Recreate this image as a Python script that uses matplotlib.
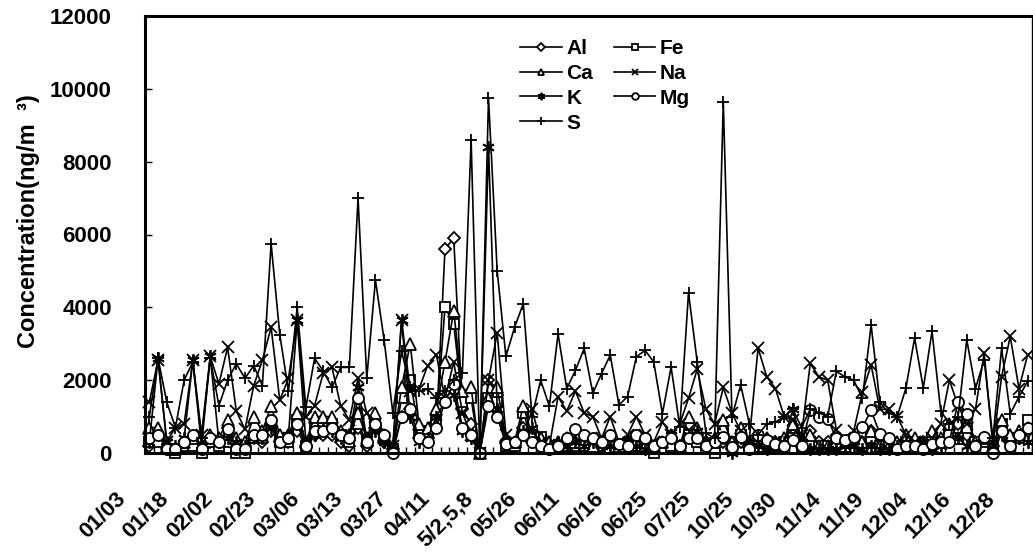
import numpy as np
import matplotlib
matplotlib.use("Agg")
import matplotlib.pyplot as plt
import matplotlib.transforms as mtransforms

plt.rcParams['font.family'] = ['Liberation Sans', 'DejaVu Sans']
plt.rcParams['font.weight'] = 'bold'
plt.rcParams['axes.labelweight'] = 'bold'

# tick labels, one every 5 samples
tick_labels = ['01/03', '01/18', '02/02', '02/23', '03/06', '03/13', '03/27', '04/11',
               '5/2,5,8', '05/26', '06/11', '06/16', '06/25', '07/25', '10/25', '10/30',
               '11/14', '11/19', '12/04', '12/16', '12/28']

Al = [200, 400, 100, 50, 200, 300, 100, 300, 300, 700,
      300, 200, 400, 300, 600, 300, 300, 600, 200, 500,
      500, 500, 300, 200, 700, 200, 700, 300, 100, 1000,
      1200, 400, 400, 700, 5600, 5900, 1200, 800, 0, 2000,
      1600, 300, 200, 700, 300, 200, 100, 200, 300, 300,
      300, 200, 300, 300, 200, 300, 300, 200, 100, 200,
      300, 200, 800, 500, 300, 200, 300, 100, 300, 200,
      400, 200, 300, 300, 500, 200, 600, 300, 300, 200,
      200, 300, 300, 600, 300, 200, 200, 300, 200, 300,
      200, 300, 400, 800, 500, 300, 400, 200, 600, 300,
      400, 600]

Fe = [300, 300, 100, 0, 200, 200, 0, 300, 200, 300,
      0, 0, 400, 400, 800, 300, 300, 900, 200, 800,
      800, 800, 500, 300, 800, 300, 800, 400, 100, 1500,
      2000, 600, 500, 900, 4000, 3550, 1400, 1500, 0, 1500,
      1400, 200, 200, 1100, 400, 450, 200, 100, 200, 200,
      200, 200, 200, 100, 200, 200, 200, 100, 0, 100,
      200, 100, 500, 300, 100, 0, 700, 300, 500, 200,
      200, 300, 200, 300, 400, 200, 300, 200, 200, 200,
      200, 300, 200, 400, 200, 200, 200, 300, 300, 200,
      400, 300, 500, 400, 700, 300, 300, 200, 800, 400,
      400, 900]

Ca = [700, 700, 200, 100, 300, 400, 200, 500, 400, 900,
      400, 300, 1000, 600, 1300, 500, 500, 1100, 300, 1000,
      1000, 1000, 600, 500, 1100, 400, 1100, 500, 200, 1800,
      3000, 800, 700, 1200, 2500, 3900, 1700, 1800, 0, 1500,
      1800, 400, 300, 1300, 500, 400, 300, 300, 400, 300,
      300, 200, 300, 300, 200, 300, 300, 200, 200, 300,
      500, 200, 1000, 700, 300, 400, 900, 300, 700, 300,
      200, 400, 300, 400, 800, 300, 500, 200, 200, 300,
      200, 400, 300, 600, 200, 200, 300, 500, 400, 300,
      600, 400, 800, 400, 1000, 300, 400, 200, 900, 500,
      600, 700]

Na = [1400, 2550, 300, 700, 800, 2550, 500, 2650, 1900, 2900,
      1150, 650, 1850, 2550, 3450, 1450, 2050, 3650, 1000, 1300,
      2200, 2350, 1300, 900, 2050, 1100, 700, 400, 200, 3650,
      1700, 1750, 2400, 2700, 1500, 2500, 1100, 500, 0, 2000,
      3300, 500, 300, 400, 1200, 300, 200, 1550, 1150, 1700,
      1100, 1000, 400, 1000, 300, 500, 1000, 500, 300, 850,
      500, 800, 1500, 2300, 1200, 800, 1800, 1100, 600, 400,
      2880, 2090, 1770, 1000, 900, 500, 2460, 2090, 2000, 640,
      400, 600, 1670, 2420, 1200, 1200, 1000, 500, 300, 200,
      400, 800, 2000, 1300, 800, 1200, 2740, 200, 2090, 3200,
      1770, 2700]

K = [300, 2600, 300, 200, 400, 2550, 200, 2650, 300, 400,
     300, 200, 500, 400, 700, 300, 500, 3650, 300, 500,
     700, 600, 400, 500, 1800, 400, 600, 300, 100, 3650,
     1000, 300, 400, 1000, 1400, 1600, 600, 400, 0, 8400,
     1200, 300, 300, 600, 700, 200, 100, 300, 200, 300,
     200, 300, 200, 200, 200, 300, 200, 100, 200, 300,
     500, 200, 500, 600, 300, 300, 400, 0, 400, 300,
     200, 100, 200, 300, 1200, 300, 100, 100, 100, 100,
     200, 200, 100, 200, 100, 100, 200, 300, 200, 300,
     100, 200, 300, 400, 200, 200, 400, 100, 500, 200,
     400, 300]

Mg = [400, 500, 100, 100, 300, 500, 100, 400, 300, 650,
      100, 100, 500, 500, 900, 300, 400, 800, 200, 600,
      600, 700, 500, 400, 1500, 300, 800, 500, 0, 1000,
      1200, 400, 300, 700, 1400, 1900, 700, 500, 0, 1300,
      1000, 250, 300, 500, 300, 200, 100, 200, 400, 650,
      500, 400, 300, 500, 250, 200, 500, 400, 200, 300,
      400, 200, 400, 400, 200, 300, 440, 170, 440, 100,
      500, 350, 250, 200, 350, 200, 1170, 990, 940, 400,
      350, 450, 710, 1170, 530, 400, 100, 200, 200, 100,
      250, 300, 300, 1410, 1080, 200, 450, 0, 600, 200,
      500, 700]

S = [1000, 2600, 1400, 700, 2000, 2500, 400, 2600, 1300, 2000,
     2450, 2050, 2400, 1850, 5750, 3250, 1700, 4000, 1250, 2600,
     2250, 1800, 2350, 2350, 7000, 2050, 4750, 3100, 1100, 2800,
     1800, 1700, 1750, 1500, 1700, 2000, 2200, 8600, 0, 9750,
     5000, 2650, 3450, 4100, 1000, 2000, 1280, 3270, 1770, 2270,
     2870, 1640, 2180, 2690, 1320, 1550, 2640, 2820, 2500, 1080,
     2360, 720, 4400, 2500, 550, 400, 9650, 1000, 1870, 800,
     500, 800, 850, 1000, 1200, 700, 1200, 1100, 1000, 2240,
     2090, 2000, 1500, 3520, 1400, 1100, 1000, 1780, 3160, 1780,
     3340, 1160, 800, 1000, 3110, 1770, 2560, 400, 2870, 1080,
     1540, 1970]

series = [('Al', Al, 'D', 6.5), ('Fe', Fe, 's', 7.5), ('Ca', Ca, '^', 8),
          ('Na', Na, 'x', 8), ('K', K, (6, 2, 0), 9), ('Mg', Mg, 'o', 8),
          ('S', S, '+', 9)]

fig = plt.figure(figsize=(10.33, 5.52), dpi=100)
ax = fig.add_axes([145 / 1033, 1 - 453 / 552, 887 / 1033, 437 / 552])

x = np.arange(len(S))
handles = {}
for name, vals, mk, ms in series:
    h, = ax.plot(x, vals, color='black', lw=1.2, marker=mk, ms=ms,
                 markerfacecolor='white', markeredgecolor='black', mew=1.3,
                 label=name, clip_on=False)
    handles[name] = h

ax.set_xlim(-0.5, len(S) - 0.5)
ax.set_ylim(0, 12000)
ax.set_yticks(np.arange(0, 12001, 2000))
ax.tick_params(axis='y', direction='in', length=5, width=1, pad=24, labelsize=16)

ax.set_xticks(np.arange(0, len(S), 5))
ax.set_xticklabels(tick_labels, rotation=45, ha='right', va='center',
                   rotation_mode='anchor', fontsize=16)
ax.set_xticks(np.arange(-0.5, len(S), 1), minor=True)
ax.tick_params(axis='x', which='major', length=0, pad=31)
ax.tick_params(axis='x', which='minor', direction='in', length=4, width=1)
offset = mtransforms.ScaledTranslation(-0.27, 0, fig.dpi_scale_trans)
for lab in ax.get_xticklabels():
    lab.set_transform(lab.get_transform() + offset)

for side in ['left', 'bottom', 'top']:
    ax.spines[side].set_linewidth(2.2)
ax.spines['right'].set_linewidth(1)

ax.set_ylabel('Concentration(ng/m  ³)', fontsize=17, fontweight='bold')
ax.yaxis.set_label_coords(-0.118, 0.53)

order = ['Al', 'Ca', 'K', 'S', 'Fe', 'Na', 'Mg']
ax.legend([handles[n] for n in order], order, ncol=2, frameon=False,
          loc='upper left', bbox_to_anchor=(0.402, 0.99), fontsize=15,
          handlelength=2.0, markerscale=0.6, columnspacing=1.0,
          labelspacing=0.28, handletextpad=0.2)

fig.savefig('out.png', dpi=100)
